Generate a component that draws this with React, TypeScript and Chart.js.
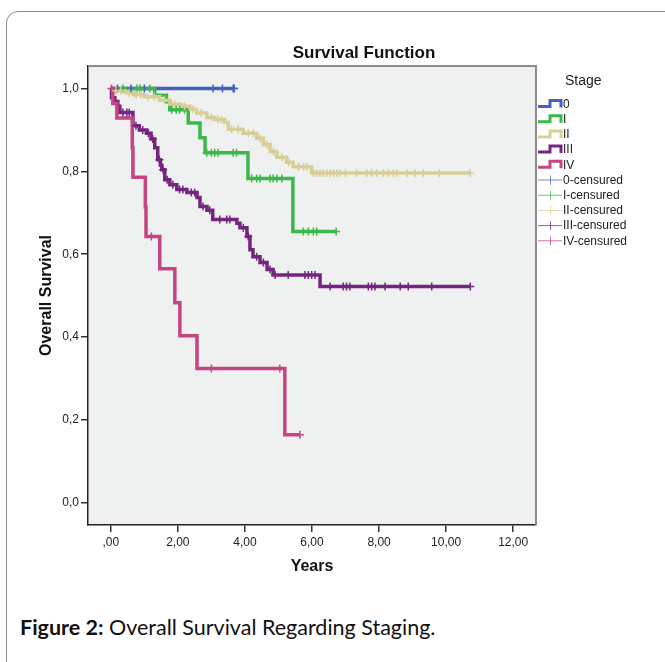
import React, { useEffect, useRef } from "react";
import { Chart, registerables } from "chart.js";

Chart.register(...registerables);

// ---------- DATA ----------
const stageNames = ["0", "I", "II", "III", "IV"];
const censoredNames = ["0-censured", "I-censured", "II-censured", "III-censured", "IV-censured"];
const stageColors = ["#4262bc", "#3bb84a", "#d7cf96", "#74267f", "#c54481"];

const xTickValues = [0, 2, 4, 6, 8, 10, 12];
const xTickLabels = [",00", "2,00", "4,00", "6,00", "8,00", "10,00", "12,00"];
const yTickValues = [0, 0.2, 0.4, 0.6, 0.8, 1.0];
const yTickLabels = ["0,0", "0,2", "0,4", "0,6", "0,8", "1,0"];

// Stage 0
const s0Times = [0, 3.68];
const s0Surv = [1, 1];
const s0Cens = [0.2, 0.6, 1.0, 3.05, 3.33, 3.65, 3.68];

// Stage I
const s1Times = [0, 1.31, 1.66, 1.76, 2.31, 2.66, 2.81, 4.09, 5.43, 6.72];
const s1Surv = [1, 0.984, 0.968, 0.949, 0.917, 0.881, 0.845, 0.783, 0.655, 0.655];
const s1Cens = [0.36, 0.78, 0.87, 1.16, 1.82, 1.95, 2.05, 2.2, 2.86, 3.0, 3.1, 3.2, 3.65, 3.75, 4.2, 4.35, 4.45, 4.75, 4.84, 4.95, 5.1, 5.74, 5.89, 6.04, 6.14, 6.72];

// Stage II
const s2Times = [0, 0.07, 0.45, 0.67, 1.0, 1.46, 1.76, 2.1, 2.36, 2.56, 2.86, 3.1, 3.4, 3.5, 3.95, 4.35, 4.55, 4.75, 4.95, 5.24, 5.44, 5.99, 10.72];
const s2Surv = [1, 0.995, 0.99, 0.985, 0.98, 0.972, 0.962, 0.957, 0.95, 0.941, 0.93, 0.925, 0.918, 0.902, 0.892, 0.88, 0.865, 0.848, 0.834, 0.822, 0.811, 0.796, 0.796];
const s2Cens = [0.15, 0.3, 0.55, 0.75, 0.9, 1.1, 1.3, 1.6, 1.9, 2.2, 2.45, 2.7, 3.0, 3.2, 3.3, 3.6, 3.8, 4.1, 4.25, 4.45, 4.65, 4.85, 5.1, 5.3, 5.6, 5.75, 5.85, 6.04, 6.14, 6.24, 6.34, 6.44, 6.54, 6.64, 6.74, 6.84, 7.0, 7.33, 7.63, 7.78, 7.93, 8.13, 8.28, 8.43, 8.53, 8.83, 9.07, 9.32, 9.8, 10.72];

// Stage III
const s3Times = [0, 0.02, 0.12, 0.21, 0.27, 0.66, 0.85, 1.07, 1.2, 1.31, 1.4, 1.48, 1.52, 1.61, 1.76, 1.97, 2.27, 2.57, 2.66, 2.87, 3.04, 3.76, 3.85, 4.06, 4.15, 4.24, 4.45, 4.66, 4.84, 6.24, 10.72];
const s3Surv = [1, 0.978, 0.969, 0.957, 0.942, 0.91, 0.9, 0.892, 0.878, 0.857, 0.828, 0.815, 0.804, 0.78, 0.768, 0.756, 0.749, 0.737, 0.715, 0.706, 0.684, 0.675, 0.664, 0.643, 0.611, 0.594, 0.58, 0.563, 0.55, 0.522, 0.522];
const s3Cens = [0.36, 0.48, 0.55, 0.75, 0.95, 1.12, 1.25, 1.45, 1.56, 1.68, 1.85, 2.05, 2.15, 2.4, 2.5, 2.75, 2.95, 3.25, 3.46, 3.55, 3.95, 4.1, 4.35, 4.55, 4.75, 4.9, 5.29, 5.79, 5.89, 5.99, 6.09, 6.54, 6.93, 7.03, 7.13, 7.68, 7.78, 7.88, 8.18, 8.63, 8.87, 9.57, 10.72];

// Stage IV
const s4Times = [0, 0.06, 0.18, 0.64, 0.66, 1.03, 1.05, 1.46, 1.91, 2.06, 2.57, 5.19, 5.64];
const s4Surv = [1, 0.964, 0.929, 0.857, 0.786, 0.714, 0.643, 0.565, 0.483, 0.403, 0.324, 0.164, 0.164];
const s4Cens = [0.02, 1.21, 3.0, 5.04, 5.64];

const allTimes = [s0Times, s1Times, s2Times, s3Times, s4Times];
const allSurv = [s0Surv, s1Surv, s2Surv, s3Surv, s4Surv];
const allCens = [s0Cens, s1Cens, s2Cens, s3Cens, s4Cens];

const FONT = "'Liberation Sans', Arial, sans-serif";

function survAt(times: number[], surv: number[], t: number): number {
  let v = 1;
  for (let i = 0; i < times.length; i++) {
    if (times[i] <= t + 1e-9) v = surv[i];
  }
  return v;
}

const decorPlugin = {
  id: "decor",
  beforeDraw(chart: any) {
    const { ctx, chartArea } = chart;
    ctx.save();
    ctx.fillStyle = "#eff0f0";
    ctx.fillRect(chartArea.left, chartArea.top, chartArea.right - chartArea.left, chartArea.bottom - chartArea.top);
    ctx.restore();
  },
  afterDraw(chart: any) {
    const { ctx, chartArea } = chart;
    ctx.save();
    // top & right frame
    ctx.strokeStyle = "#8c8c8c";
    ctx.lineWidth = 2;
    ctx.beginPath();
    ctx.moveTo(chartArea.left, chartArea.top);
    ctx.lineTo(chartArea.right, chartArea.top);
    ctx.lineTo(chartArea.right, chartArea.bottom);
    ctx.stroke();

    // title
    ctx.fillStyle = "#111";
    ctx.font = `bold 17px ${FONT}`;
    ctx.textAlign = "center";
    ctx.textBaseline = "middle";
    ctx.fillText("Survival Function", 364, 53);

    // legend
    ctx.font = `14px ${FONT}`;
    ctx.textAlign = "left";
    ctx.fillStyle = "#222";
    ctx.fillText("Stage", 565, 81);

    ctx.font = `12px ${FONT}`;
    const rowY = (i: number) => 103.5 + i * 15.2;
    stageNames.forEach((name, i) => {
      const y = rowY(i);
      ctx.strokeStyle = stageColors[i];
      ctx.lineWidth = 3;
      ctx.lineJoin = "miter";
      ctx.beginPath();
      ctx.moveTo(538, y + 3);
      ctx.lineTo(550, y + 3);
      ctx.lineTo(550, y - 3);
      ctx.lineTo(561, y - 3);
      ctx.lineTo(561, y + 4);
      ctx.stroke();
      ctx.fillStyle = "#222";
      ctx.fillText(name, 563, y + 1);
    });
    censoredNames.forEach((name, i) => {
      const y = rowY(i + 5);
      ctx.strokeStyle = stageColors[i];
      ctx.globalAlpha = 0.75;
      ctx.lineWidth = 1;
      ctx.beginPath();
      ctx.moveTo(538, y + 0.5);
      ctx.lineTo(562, y + 0.5);
      ctx.moveTo(550.5, y - 4);
      ctx.lineTo(550.5, y + 5);
      ctx.stroke();
      ctx.globalAlpha = 1;
      ctx.fillStyle = "#222";
      ctx.fillText(name, 563, y + 1);
    });
    ctx.restore();
  },
};

export default function App() {
  const canvasRef = useRef<HTMLCanvasElement | null>(null);

  useEffect(() => {
    if (!canvasRef.current) return;
    Chart.defaults.font.family = FONT;

    const datasets: any[] = [];
    stageNames.forEach((name, i) => {
      datasets.push({
        label: name,
        data: allTimes[i].map((t, j) => ({ x: t, y: allSurv[i][j] })),
        borderColor: stageColors[i],
        backgroundColor: stageColors[i],
        borderWidth: 3.5,
        stepped: true,
        pointRadius: 0,
        fill: false,
        order: 10 - i,
      });
    });
    censoredNames.forEach((name, i) => {
      datasets.push({
        label: name,
        data: allCens[i].map((t) => ({ x: t, y: survAt(allTimes[i], allSurv[i], t) })),
        borderColor: stageColors[i],
        backgroundColor: stageColors[i],
        showLine: false,
        pointStyle: "cross",
        pointRadius: 4,
        pointBorderWidth: 1.5,
        order: 5 - i,
      });
    });

    const chart = new Chart(canvasRef.current, {
      type: "line",
      data: { datasets },
      options: {
        animation: false,
        responsive: false,
        devicePixelRatio: window.devicePixelRatio || 1,
        layout: { padding: { left: 0, right: 129, top: 66, bottom: 15 } },
        plugins: { legend: { display: false }, tooltip: { enabled: false }, title: { display: false } },
        scales: {
          x: {
            type: "linear",
            min: -0.68,
            max: 12.68,
            afterBuildTicks: (s: any) => {
              s.ticks = xTickValues.map((v) => ({ value: v }));
            },
            afterFit: (s: any) => {
              s.height = 60;
            },
            ticks: {
              autoSkip: false,
              maxRotation: 0,
              padding: 3,
              color: "#222",
              font: { size: 12, family: FONT },
              callback: (v: any) => xTickLabels[xTickValues.indexOf(Number(v))] ?? "",
            },
            grid: { drawOnChartArea: false, drawTicks: true, tickLength: 7, color: "#333", lineWidth: 1.5 },
            border: { display: true, color: "#222", width: 1.5 },
            title: {
              display: true,
              text: "Years",
              color: "#111",
              font: { size: 16, weight: "bold", family: FONT },
              padding: { top: 0, bottom: 9 },
            },
          },
          y: {
            type: "linear",
            min: -0.054,
            max: 1.0545,
            afterBuildTicks: (s: any) => {
              s.ticks = yTickValues.map((v) => ({ value: v }));
            },
            afterFit: (s: any) => {
              s.width = 88;
            },
            ticks: {
              padding: 2,
              color: "#222",
              font: { size: 12, family: FONT },
              callback: (v: any) => {
                const idx = yTickValues.findIndex((t) => Math.abs(t - Number(v)) < 1e-6);
                return idx >= 0 ? yTickLabels[idx] : "";
              },
            },
            grid: { drawOnChartArea: false, drawTicks: true, tickLength: 7, color: "#333", lineWidth: 1.5 },
            border: { display: true, color: "#222", width: 1.5 },
            title: {
              display: true,
              text: "Overall Survival",
              color: "#111",
              font: { size: 16, weight: "bold", family: FONT },
              padding: { top: 37, bottom: 0 },
            },
          },
        },
      },
      plugins: [decorPlugin],
    } as any);

    return () => chart.destroy();
  }, []);

  return (
    <div
      style={{
        position: "absolute",
        left: 0,
        top: 0,
        width: 665,
        height: 662,
        overflow: "hidden",
        background: "#fff",
      }}
    >
      <div
        style={{
          position: "absolute",
          left: 6,
          top: 11,
          width: 720,
          height: 720,
          border: "1.5px solid #8a8a8a",
          borderRadius: 12,
          boxSizing: "border-box",
        }}
      />
      <canvas
        ref={canvasRef}
        width={665}
        height={600}
        style={{ position: "absolute", left: 0, top: 0, width: 665, height: 600 }}
      />
      <div
        style={{
          position: "absolute",
          left: 20,
          top: 613,
          fontFamily: "Lato, 'Open Sans', sans-serif",
          fontSize: 21.5,
          lineHeight: "28px",
          color: "#111",
          whiteSpace: "nowrap",
        }}
      >
        <b>Figure 2:</b> Overall Survival Regarding Staging.
      </div>
    </div>
  );
}
